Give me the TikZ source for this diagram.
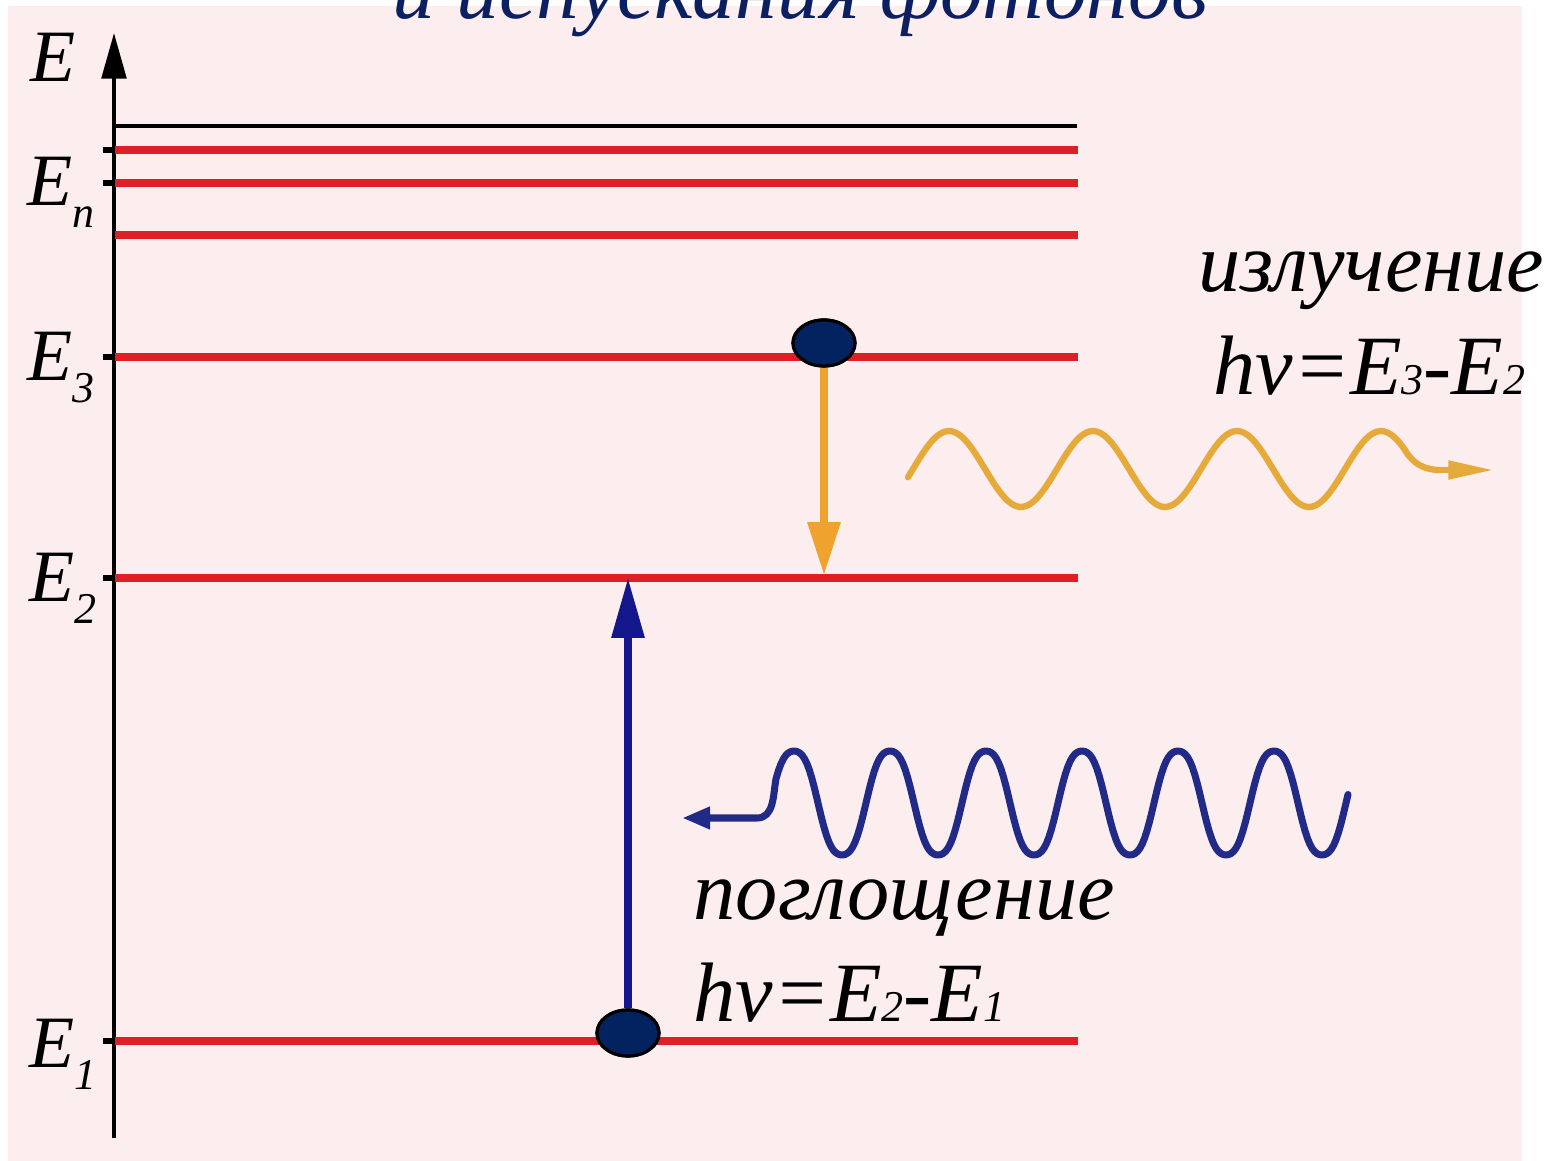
\documentclass[tikz,border=0pt]{standalone}
\usepackage{fontspec}
\setmainfont{Liberation Serif}
\usetikzlibrary{arrows.meta,shapes.geometric}
\definecolor{bgpink}{HTML}{FCEEEE}
\definecolor{navy}{HTML}{0C1F60}
\definecolor{lvlred}{HTML}{DF1F26}
\definecolor{orng}{HTML}{F0A22E}
\definecolor{gold}{HTML}{E6AA3A}
\definecolor{darkblue}{HTML}{14168C}
\definecolor{wblue}{HTML}{222A88}
\definecolor{efill}{HTML}{022260}
\newcommand\bigtxt{\fontsize{24}{28}\selectfont\itshape}
\newcommand\smdig[1]{{\fontsize{12.5}{12.5}\selectfont #1}}
\newcommand\axlab{\fontsize{21}{24}\selectfont\itshape}
\newcommand\axsub[1]{\raisebox{-6pt}{\fontsize{12.5}{12.5}\selectfont #1}}
\tikzset{
  level/.style={draw=lvlred, line width=2.2pt},
  toplevel/.style={draw=black, line width=1.1pt},
  tickmark/.style={draw=black, line width=1.7pt},
  axisline/.style={draw=black, line width=1.1pt, -{Triangle[length=13pt,width=7pt]}},
  electron/.style={ellipse, draw=black, line width=0.9pt, fill=efill, minimum width=0.62cm, minimum height=0.46cm, inner sep=0pt},
  emitarrow/.style={draw=orng, line width=2pt, -{Triangle[length=15pt,width=9pt]}},
  absarrow/.style={draw=darkblue, line width=2pt, -{Triangle[length=17pt,width=9pt]}},
  txt/.style={anchor=base west, inner sep=0pt, font=\bigtxt},
  axtxt/.style={anchor=base west, inner sep=0pt, font=\axlab},
}
\begin{document}
\begin{tikzpicture}[x=0.01cm,y=-0.01cm]
\useasboundingbox (0,0) rectangle (1550,1161);
\fill[white] (0,0) rectangle (1550,1161);
\fill[bgpink] (8,6) rectangle (1522,1161);
% title (cut off at the top)
\node[txt, text=navy, font=\fontsize{24.2}{28}\selectfont\itshape] (title) at (392,19) {и испускания фотонов};
% axis
\coordinate (axb) at (114,1138);
\coordinate (axt) at (114,33);
\draw[axisline] (axb) -- (axt);
% levels
\draw[toplevel] (115,126) -- (1077,126);
\foreach \y in {150,183,235,357,578,1041}
  \draw[level] (115,\y) -- (1078,\y);
\foreach \y in {150,183,357,578,1041}
  \draw[tickmark] (103,\y) -- (115,\y);
% axis labels
\node[axtxt] (lE) at (30,82) {E};
\node[axtxt] (lEn) at (27,206) {E\axsub{n}};
\node[axtxt] (lE3) at (27,381) {E\axsub{3}};
\node[axtxt] (lE2) at (29,602) {E\axsub{2}};
\node[axtxt] (lE1) at (29,1068) {E\axsub{1}};
% transitions
\node[electron] (e3) at (824,343) {};
\node[electron] (e1) at (628,1033) {};
\coordinate (t32) at (824,575);
\coordinate (t12) at (628,578);
\draw[emitarrow] (e3.south) -- (t32);
\draw[absarrow] (e1.north) -- (t12);
\node[electron] at (e3) {};
\node[electron] at (e1) {};
% emitted photon
\coordinate (otip) at (1494,470);
\draw[gold, line width=1.8pt, line cap=round, line join=round]
  plot[domain=908:1405, samples=140] (\x, {469 - 38*sin((\x-913)/144*360)})
  to[out=-60,in=180] (1440,470);
\draw[gold, line width=1.8pt, -{Triangle[length=13pt,width=5pt]}] (1438,470) -- (otip);
% absorbed photon
\coordinate (btip) at (682,818);
\draw[wblue, line width=2pt, line cap=round, line join=round]
  plot[domain=1348:776, samples=240] (\x, {803 - 52/0.94*(sin((\x-770)/96*360) + 0.06*sin((\x-770)/32*360))})
  to[out=-100,in=0] (757,818) -- (700,818);
\draw[wblue, line width=2pt, -{Triangle[length=8pt,width=6pt]}] (705,818) -- (btip);
% labels
\node[txt] (emit) at (1198,292) {излучение};
\node[txt] (emitf) at (1213,395) {hv=E\smdig{3}-E\smdig{2}};
\node[txt] (abs) at (693,920) {поглощение};
\node[txt] (absf) at (693,1022) {hv=E\smdig{2}-E\smdig{1}};
\end{tikzpicture}
\end{document}
